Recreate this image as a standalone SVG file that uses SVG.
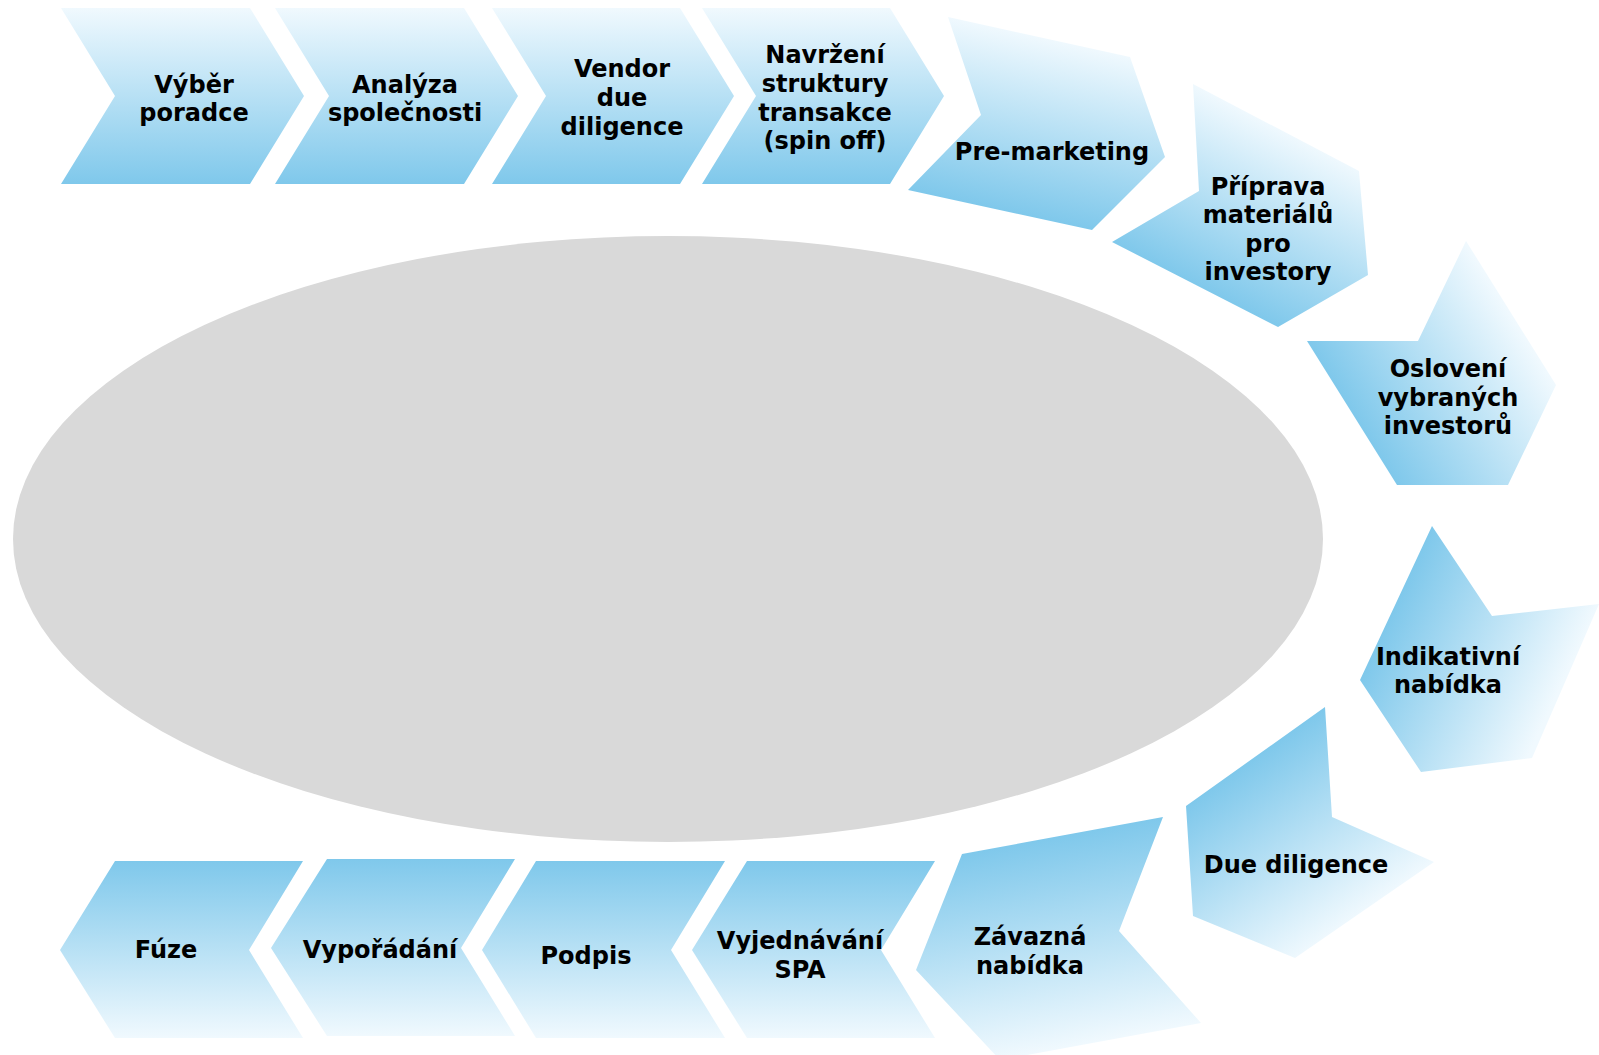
<svg xmlns="http://www.w3.org/2000/svg" width="1599" height="1055" viewBox="0 0 1599 1055">
<defs>
<style>
.t{font-family:"DejaVu Sans","Verdana",sans-serif;font-weight:bold;font-size:24px;fill:#000;text-anchor:middle}
</style>
<linearGradient id="gUp" x1="0" y1="1" x2="0" y2="0"><stop offset="0" stop-color="#7fc8eb"/><stop offset="1" stop-color="#f0f9fe"/></linearGradient>
<linearGradient id="gDown" x1="0" y1="0" x2="0" y2="1"><stop offset="0" stop-color="#7fc8eb"/><stop offset="1" stop-color="#f0f9fe"/></linearGradient>
<linearGradient id="gPre" gradientUnits="userSpaceOnUse" x1="1000" y1="210" x2="1038" y2="36"><stop offset="0" stop-color="#7fc8eb"/><stop offset="1" stop-color="#f0f9fe"/></linearGradient>
<linearGradient id="gPri" gradientUnits="userSpaceOnUse" x1="1195" y1="285" x2="1276" y2="126"><stop offset="0" stop-color="#7fc8eb"/><stop offset="1" stop-color="#f0f9fe"/></linearGradient>
<linearGradient id="gOsl" gradientUnits="userSpaceOnUse" x1="1352" y1="413" x2="1510" y2="314"><stop offset="0" stop-color="#7fc8eb"/><stop offset="1" stop-color="#f0f9fe"/></linearGradient>
<linearGradient id="gInd" gradientUnits="userSpaceOnUse" x1="1396" y1="603" x2="1563" y2="681"><stop offset="0" stop-color="#7fc8eb"/><stop offset="1" stop-color="#f0f9fe"/></linearGradient>
<linearGradient id="gDue" gradientUnits="userSpaceOnUse" x1="1255" y1="757" x2="1365" y2="912"><stop offset="0" stop-color="#7fc8eb"/><stop offset="1" stop-color="#f0f9fe"/></linearGradient>
<linearGradient id="gZav" gradientUnits="userSpaceOnUse" x1="1062" y1="835" x2="1100" y2="1041"><stop offset="0" stop-color="#7fc8eb"/><stop offset="1" stop-color="#f0f9fe"/></linearGradient>
</defs>
<rect width="1599" height="1055" fill="#fff"/>
<g id="ellipse"><ellipse cx="668" cy="539" rx="655" ry="303" fill="#d9d9d9"/></g>
<g id="connectors"/>
<g id="n1"><polygon points="61,8 250,8 304,96 250,184 61,184 115,96" fill="url(#gUp)"/><text class="t" x="194" y="93">Výběr</text><text class="t" x="194" y="121">poradce</text></g>
<g id="n2"><polygon points="275,8 464,8 518,96 464,184 275,184 329,96" fill="url(#gUp)"/><text class="t" x="405" y="93">Analýza</text><text class="t" x="405" y="121">společnosti</text></g>
<g id="n3"><polygon points="492,8 680,8 734,96 680,184 492,184 546,96" fill="url(#gUp)"/><text class="t" x="622" y="77">Vendor</text><text class="t" x="622" y="106">due</text><text class="t" x="622" y="135">diligence</text></g>
<g id="n4"><polygon points="702,8 890,8 944,96 890,184 702,184 756,96" fill="url(#gUp)"/><text class="t" x="825" y="63">Navržení</text><text class="t" x="825" y="92">struktury</text><text class="t" x="825" y="121">transakce</text><text class="t" x="825" y="149">(spin off)</text></g>
<g id="n5"><polygon points="948,17 1130,57 1165,157 1092,230 908,190 981,115" fill="url(#gPre)"/><text class="t" x="1052" y="160">Pre-marketing</text></g>
<g id="n6"><polygon points="1193,84 1359,171 1368,275 1278,327 1112,242 1199,191" fill="url(#gPri)"/><text class="t" x="1268" y="195">Příprava</text><text class="t" x="1268" y="223">materiálů</text><text class="t" x="1268" y="252">pro</text><text class="t" x="1268" y="280">investory</text></g>
<g id="n7"><polygon points="1466,241 1556,385 1508,485 1397,485 1307,341 1418,341" fill="url(#gOsl)"/><text class="t" x="1448" y="377">Oslovení</text><text class="t" x="1448" y="406">vybraných</text><text class="t" x="1448" y="434">investorů</text></g>
<g id="n8"><polygon points="1432,526 1492,616 1599,604 1532,758 1421,772 1360,680" fill="url(#gInd)"/><text class="t" x="1448" y="665">Indikativní</text><text class="t" x="1448" y="693">nabídka</text></g>
<g id="n9"><polygon points="1325,707 1332,817 1434,862 1295,958 1193,916 1186,806" fill="url(#gDue)"/><text class="t" x="1296" y="873">Due diligence</text></g>
<g id="n10"><polygon points="962,854 1163,817 1119,931 1201,1023 1000,1060 916,970" fill="url(#gZav)"/><text class="t" x="1030" y="945">Závazná</text><text class="t" x="1030" y="974">nabídka</text></g>
<g id="n11"><polygon points="747,861 935,861 881,950 935,1038 747,1038 692,950" fill="url(#gDown)"/><text class="t" x="800" y="949">Vyjednávání</text><text class="t" x="800" y="978">SPA</text></g>
<g id="n12"><polygon points="536,861 725,861 671,950 725,1038 536,1038 482,950" fill="url(#gDown)"/><text class="t" x="586" y="964">Podpis</text></g>
<g id="n13"><polygon points="327,859 515,859 461,948 515,1036 327,1036 271,948" fill="url(#gDown)"/><text class="t" x="380" y="958">Vypořádání</text></g>
<g id="n14"><polygon points="115,861 303,861 249,950 303,1038 115,1038 60,950" fill="url(#gDown)"/><text class="t" x="166" y="958">Fúze</text></g>
</svg>
